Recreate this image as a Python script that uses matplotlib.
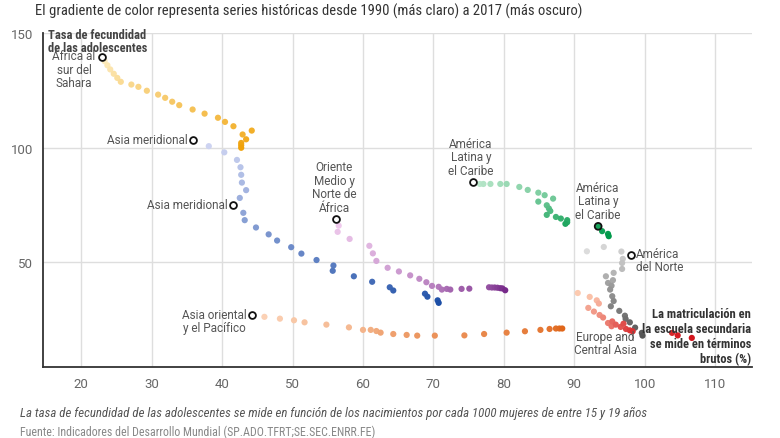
import matplotlib
matplotlib.use("Agg")
import matplotlib.pyplot as plt
from matplotlib import font_manager
from matplotlib.colors import LinearSegmentedColormap
import numpy as np

# ---------------- data (enrolment %, adolescent fertility) ----------------
ssa_x = [22.9, 23.3, 23.7, 24.1, 24.6, 25.1, 25.6, 27.1, 28.1, 29.3, 30.9, 31.9, 32.9,
         33.9, 35.8, 37.5, 39.4, 40.4, 41.6, 42.9, 44.2, 43.4, 42.7, 42.7, 42.7]
ssa_y = [139.6, 137.7, 135.9, 134.1, 132.2, 130.4, 128.7, 127.5, 126.5, 124.8, 123.1, 121.7,
         120.0, 118.5, 116.6, 114.8, 113.0, 111.2, 109.3, 105.7, 107.4, 103.6, 102.0, 101.0, 99.9]

sa_x = [35.9, 38.1, 40.3, 42.1, 42.6, 42.7, 42.8, 43.4, 42.5, 41.6, 43.0, 43.2, 44.8, 46.6,
        47.8, 49.8, 51.25, 53.4, 55.8, 55.7, 58.7, 61.3, 63.8, 64.3, 68.8, 69.15, 70.6, 70.75]
sa_y = [103.2, 100.6, 97.9, 94.6, 91.4, 88.1, 84.7, 81.4, 78.0, 74.7, 71.5, 68.3, 65.1, 62.1,
        59.4, 56.5, 53.7, 50.9, 48.5, 46.2, 43.8, 41.4, 39.0, 37.6, 36.2, 34.9, 33.3, 32.2]

mena_x = [56.1, 56.55, 56.4, 58.1, 60.9, 61.4, 61.9, 63.5, 65.1, 66.7, 68.0, 69.0, 69.8,
          70.75, 71.2, 71.9, 72.4, 74.0, 75.1, 77.9, 78.3, 78.7, 79.1, 79.5, 79.8, 80.2]
mena_y = [68.9, 65.9, 63.2, 60.1, 57.1, 53.8, 50.5, 47.5, 45.9, 44.2, 42.7, 41.2, 39.6,
          39.2, 38.0, 38.3, 38.0, 38.3, 38.4, 39.0, 38.9, 38.9, 38.8, 38.6, 38.5, 37.7]

lac_x = [75.6, 76.6, 77.1, 78.1, 79.5, 80.4, 82.2, 83.4, 84.9, 85.8, 87.0, 84.9, 86.1, 86.4,
         86.6, 86.1, 87.4, 88.1, 89.0, 89.0, 88.75, 93.4, 93.96, 94.8, 94.9]
lac_y = [85.0, 84.1, 84.1, 84.1, 84.1, 84.1, 82.8, 81.5, 80.3, 79.2, 77.7, 76.4, 74.8, 73.4,
         72.3, 70.6, 69.7, 69.0, 68.3, 67.4, 66.7, 65.6, 63.5, 62.3, 61.3]

na_x = [98.0, 91.8, 94.2, 96.7, 96.9, 96.8, 96.8, 95.6, 94.5, 95.5, 94.8, 95.3, 95.1, 95.4,
        95.6, 95.2, 96.4, 97.2, 97.3, 97.9, 98.65, 99.6, 99.7]
na_y = [53.1, 54.7, 56.6, 54.6, 51.4, 49.6, 47.0, 45.3, 43.8, 42.1, 40.9, 39.7, 38.0, 35.1,
        33.0, 30.7, 28.7, 26.6, 25.2, 23.7, 21.4, 19.1, 17.9]

eca_x = [90.5, 92.2, 93.2, 93.5, 92.0, 92.8, 93.6, 94.1, 94.8, 95.3, 95.4, 95.9, 96.6, 97.0,
         97.35, 97.9, 98.3, 103.9, 104.7, 106.7]
eca_y = [36.5, 34.8, 33.3, 31.9, 30.0, 28.4, 26.9, 25.8, 23.4, 22.0, 24.1, 22.7, 21.7, 23.1,
         20.8, 20.2, 19.8, 19.1, 18.0, 16.9]

eap_x = [44.3, 46.0, 48.2, 50.2, 51.7, 54.8, 58.0, 60.0, 61.1, 61.9, 62.5, 64.3, 66.2, 67.7,
         70.2, 74.4, 77.2, 80.4, 83.0, 85.2, 86.5, 87.4, 87.9, 88.3]
eap_y = [26.9, 26.1, 25.3, 24.6, 23.7, 22.7, 21.5, 20.4, 20.4, 19.9, 19.2, 18.6, 18.2, 17.9,
         17.9, 18.0, 18.6, 19.2, 19.8, 20.4, 20.8, 21.0, 21.0, 21.0]

# extra label markers (mid-series annotations)
sa_mark_x, sa_mark_y = 41.6, 74.7
lac_mark_x, lac_mark_y = 93.4, 65.6

x_ticks = [20, 30, 40, 50, 60, 70, 80, 90, 100, 110]
y_ticks = [50, 100, 150]

# ---------------- fonts ----------------
names = {f.name for f in font_manager.fontManager.ttflist}
COND = next((n for n in ["Roboto Condensed", "Liberation Sans Narrow", "Open Sans Condensed"]
             if n in names), "Roboto")
REG = "Roboto" if "Roboto" in names else "DejaVu Sans"

W, H = 780, 439
fig = plt.figure(figsize=(W / 100, H / 100), dpi=100)
ax = fig.add_axes([43 / W, 1 - 368 / H, (752 - 43) / W, (368 - 34) / H])

ax.set_xlim(14.55, 115.25)
ax.set_ylim(4.2, 150)
ax.set_xticks(x_ticks)
ax.set_yticks(y_ticks)
ax.grid(True, color="#dedede", linewidth=1.0)
ax.set_axisbelow(True)
for s in ["top", "right"]:
    ax.spines[s].set_visible(False)
for s in ["left", "bottom"]:
    ax.spines[s].set_color("#333333")
    ax.spines[s].set_linewidth(1.3)
ax.tick_params(length=0, labelsize=9.5, labelcolor="#666666", pad=7)
for lab in ax.get_xticklabels() + ax.get_yticklabels():
    lab.set_fontfamily(REG)

series = [
    (ssa_x, ssa_y, "#fdeec4", "#f0a20a"),
    (sa_x, sa_y, "#d3d8f4", "#1c4ea6"),
    (mena_x, mena_y, "#f4d0f0", "#772a8a"),
    (lac_x, lac_y, "#c2ead0", "#00994a"),
    (na_x, na_y, "#e2e2e2", "#555555"),
    (eca_x, eca_y, "#fccab0", "#d3141c"),
    (eap_x, eap_y, "#fcd6bc", "#e0661a"),
]
for xs, ys, c0, c1 in series:
    cmap = LinearSegmentedColormap.from_list("g", [c0, c1])
    n = len(xs)
    cols = cmap(np.linspace(0, 1, n))
    ax.scatter(xs, ys, s=20, c=cols, linewidths=0, zorder=3)

# hollow start markers
starts_x = [ssa_x[0], sa_x[0], mena_x[0], lac_x[0], na_x[0], eap_x[0], sa_mark_x]
starts_y = [ssa_y[0], sa_y[0], mena_y[0], lac_y[0], na_y[0], eap_y[0], sa_mark_y]
ax.scatter(starts_x, starts_y, s=24, facecolor="white", edgecolor="#111111",
           linewidths=1.3, zorder=5)
ax.scatter([lac_mark_x], [lac_mark_y], s=24, facecolor="none", edgecolor="#111111",
           linewidths=1.3, zorder=5)

fig.canvas.draw()
rend = fig.canvas.get_renderer()


def fit(t, target):
    for _ in range(3):
        w = t.get_window_extent(rend).width
        t.set_fontsize(t.get_fontsize() * target / w)


def ftxt(x, y, s, **kw):
    return fig.text(x / W, 1 - y / H, s, **kw)


# title
t = ftxt(35, 11, "El gradiente de color representa series históricas desde 1990 (más claro) a 2017 (más oscuro)",
         fontsize=10.5, color="#333333", family=COND, va="center", ha="left")
fit(t, 548)

# caption and source
t = ftxt(20, 413, "La tasa de fecundidad de las adolescentes se mide en función de los nacimientos por cada 1000 mujeres de entre 15 y 19 años",
         fontsize=9.5, color="#555555", family=COND, style="italic", va="center", ha="left")
fit(t, 627)
t = ftxt(20, 432, "Fuente: Indicadores del Desarrollo Mundial (SP.ADO.TFRT;SE.SEC.ENRR.FE)",
         fontsize=9, color="#888888", family=COND, va="center", ha="left")
fit(t, 356)

# axis titles (bold)
ftxt(48, 42, "Tasa de fecundidad\nde las adolescentes", fontsize=9.0, fontweight="bold",
     color="#444444", family=COND, va="center", ha="left", linespacing=1.05)
ftxt(751, 337, "La matriculación en\nla escuela secundaria\nse mide en términos\nbrutos (%)",
     fontsize=9.0, fontweight="bold", color="#333333", family=COND, va="center", ha="right",
     linespacing=1.17, zorder=6)

# region labels
lab = dict(fontsize=8.5, color="#555555", family=REG, va="center", linespacing=1.07)
ftxt(74, 70, "África al\nsur del\nSahara", ha="center", **lab)
ftxt(188, 141, "Asia meridional", ha="right", **lab)
ftxt(228, 206, "Asia meridional", ha="right", **lab)
ftxt(334, 188, "Oriente\nMedio y\nNorte de\nÁfrica", ha="center", **lab)
ftxt(471, 158, "América\nLatina y\nel Caribe", ha="center", **lab)
ftxt(598, 202, "América\nLatina y\nel Caribe", ha="center", **lab)
ftxt(636, 261, "América\ndel Norte", ha="left", **lab)
ftxt(214, 322, "Asia oriental\ny el Pacífico", ha="center", **lab)
ftxt(605, 344, "Europe and\nCentral Asia", ha="center", **lab)

fig.savefig("out.png", dpi=100)
